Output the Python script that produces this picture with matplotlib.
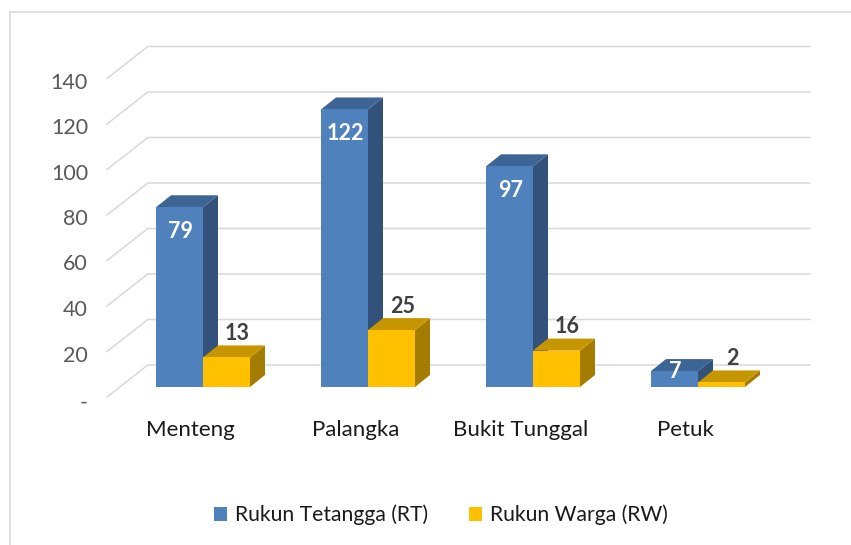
import matplotlib
matplotlib.use("Agg")
import matplotlib.pyplot as plt
from matplotlib.patches import Polygon, Rectangle, Patch
import numpy as np

plt.rcParams['font.family'] = ['Lato', 'DejaVu Sans']

# ---- data ----
categories = ["Menteng", "Palangka", "Bukit Tunggal", "Petuk"]
rt_values = [79, 122, 97, 7]
rw_values = [13, 25, 16, 2]
series_names = ["Rukun Tetangga (RT)", "Rukun Warga (RW)"]
y_ticks = [0, 20, 40, 60, 80, 100, 120, 140]
y_tick_labels = ["-", "20", "40", "60", "80", "100", "120", "140"]

# ---- styles ----
W, H = 851, 545
DPI = 100
px_per_cat = 165.0
px_per_unit = 2.275
x0_px = 203.0   # pixel x of category 0 (front plane of bars)
y0_px = 387.0   # pixel y of value 0 (front plane of bars)

blue_front, blue_top, blue_side = "#4F81BD", "#3C6596", "#32527C"
yel_front, yel_top, yel_side = "#FFC000", "#C59600", "#A47D00"
grid_col = "#D9D9D9"

fig = plt.figure(figsize=(W / DPI, H / DPI), dpi=DPI)
xlim = (-0.9, 3.9)
ylim = (-30, 160)
left_px = x0_px + px_per_cat * xlim[0]
right_px = x0_px + px_per_cat * xlim[1]
bot_px = y0_px - px_per_unit * ylim[0]
top_px = y0_px - px_per_unit * ylim[1]
ax = fig.add_axes([left_px / W, (H - bot_px) / H,
                   (right_px - left_px) / W, (bot_px - top_px) / H])
ax.set_xlim(*xlim)
ax.set_ylim(*ylim)
ax.axis("off")

# conversions px -> data
def dx(px):
    return px / px_per_cat

def dy(px):
    return px / px_per_unit

bar_w = dx(47)
bar_depth = (dx(15), dy(12))
front_off = (dx(-12.8), dy(-10))   # floor front relative to bar front plane
back_off = (dx(28), dy(22))        # back wall relative to bar front plane

# chart border
fig.patches.append(Rectangle((10 / W, 0 - 0.1), 1.2, (H - 12) / H + 0.1,
                             transform=fig.transFigure, fill=False,
                             edgecolor="#D9D9D9", lw=1.2))

# gridlines (floor front -> back wall -> right)
grid_right = dx(810 - x0_px)
for v in y_ticks:
    xa = dx(107 - x0_px)
    ya = v + front_off[1]
    xb = xa + (back_off[0] - front_off[0])
    yb = v + back_off[1]
    ax.plot([xa, xb, grid_right], [ya, yb, yb], color=grid_col, lw=1.1,
            zorder=1, clip_on=False, solid_joinstyle="miter")

# tick labels
for v, lab in zip(y_ticks, y_tick_labels):
    extra = -6 if lab == "-" else -4
    ax.annotate(lab, (dx(88 - x0_px), v + front_off[1]), xytext=(0, extra),
                textcoords="offset pixels", ha="right", va="center",
                fontsize=15.5, color="#595959", annotation_clip=False)

def draw_box(x_left, v, front, top, side, z):
    ddx, ddy = bar_depth
    # side
    ax.add_patch(Polygon([(x_left + bar_w, 0), (x_left + bar_w + ddx, ddy),
                          (x_left + bar_w + ddx, v + ddy), (x_left + bar_w, v)],
                         closed=True, facecolor=side, edgecolor="none",
                         zorder=z, clip_on=False))
    # top
    ax.add_patch(Polygon([(x_left, v), (x_left + ddx, v + ddy),
                          (x_left + bar_w + ddx, v + ddy), (x_left + bar_w, v)],
                         closed=True, facecolor=top, edgecolor="none",
                         zorder=z, clip_on=False))
    # front
    ax.add_patch(Rectangle((x_left, 0), bar_w, v, facecolor=front,
                           edgecolor="none", zorder=z + 0.1, clip_on=False))

x = np.arange(len(categories))
for i in x:
    draw_box(i - bar_w, rt_values[i], blue_front, blue_top, blue_side, 3 + i * 0.01)
    draw_box(i, rw_values[i], yel_front, yel_top, yel_side, 3.5 + i * 0.01)

# data labels
for i in x:
    v = rt_values[i]
    if v * px_per_unit > 40:
        off = -24
    else:
        off = 0
    ax.annotate(str(v), (i - bar_w / 2, v), xytext=(1, off),
                textcoords="offset pixels", ha="center", va="center",
                fontsize=15.5, fontweight="bold", color="white", zorder=10,
                annotation_clip=False)
    v2 = rw_values[i]
    ax.annotate(str(v2), (i + bar_w / 2, v2), xytext=(11, 24),
                textcoords="offset pixels", ha="center", va="center",
                fontsize=15.5, fontweight="bold", color="#404040", zorder=10,
                annotation_clip=False)

# category labels
for i, c in zip(x, categories):
    ax.annotate(c, (i + front_off[0], front_off[1]), xytext=(0, -33),
                textcoords="offset pixels", ha="center", va="center",
                fontsize=16, color="#1A1A1A", annotation_clip=False)

# legend
handles = [Patch(facecolor=blue_front, edgecolor="none"),
           Patch(facecolor=yel_front, edgecolor="none")]
fig.legend(handles, series_names, loc="center", ncol=2,
           bbox_to_anchor=(441 / W, 1 - 515 / H), frameon=False,
           fontsize=15.2, handlelength=0.62, handleheight=0.62,
           handletextpad=0.4, columnspacing=1.9, labelcolor="#1A1A1A")

fig.savefig("out.png", dpi=DPI)
